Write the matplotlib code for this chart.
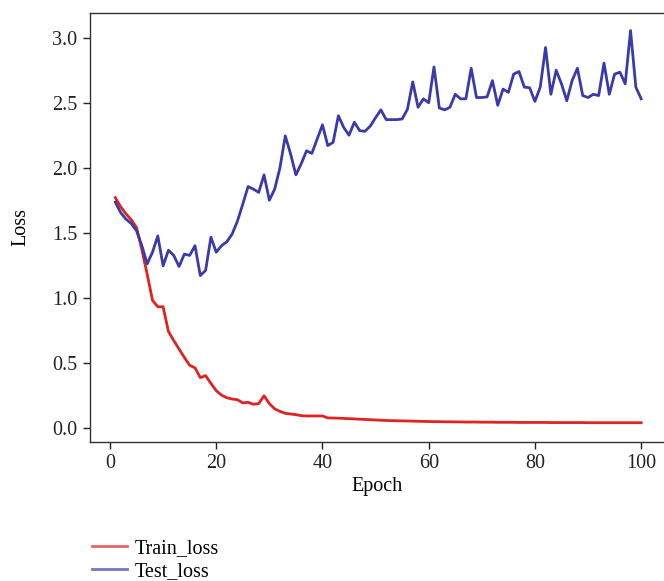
import matplotlib
matplotlib.use("Agg")
import matplotlib.pyplot as plt
import numpy as np

epochs = list(range(1, 101))

train_loss = [1.77, 1.70, 1.645, 1.60, 1.54, 1.37, 1.18, 0.98, 0.93, 0.93,
              0.74, 0.67, 0.605, 0.54, 0.48, 0.46, 0.385, 0.40, 0.34, 0.285,
              0.25, 0.23, 0.22, 0.215, 0.19, 0.195, 0.18, 0.185, 0.245, 0.185,
              0.145, 0.125, 0.11, 0.105, 0.10, 0.092, 0.09, 0.09, 0.09, 0.09,
              0.075, 0.074, 0.073, 0.071, 0.069, 0.067, 0.065, 0.063, 0.061, 0.059,
              0.057, 0.055, 0.054, 0.053, 0.052, 0.051, 0.050, 0.049, 0.048, 0.047,
              0.046, 0.046, 0.045, 0.045, 0.044, 0.044, 0.043, 0.043, 0.043, 0.042,
              0.042, 0.042, 0.041, 0.041, 0.041, 0.041, 0.040, 0.040, 0.040, 0.040,
              0.040, 0.040, 0.039, 0.039, 0.039, 0.039, 0.039, 0.039, 0.039, 0.038,
              0.038, 0.038, 0.038, 0.038, 0.038, 0.038, 0.038, 0.038, 0.038, 0.038]

test_loss = [1.735, 1.655, 1.605, 1.57, 1.515, 1.40, 1.26, 1.35, 1.475, 1.245,
             1.365, 1.325, 1.24, 1.335, 1.325, 1.40, 1.17, 1.21, 1.465, 1.35,
             1.40, 1.43, 1.49, 1.59, 1.72, 1.855, 1.835, 1.81, 1.945, 1.75,
             1.835, 2.00, 2.245, 2.105, 1.945, 2.03, 2.13, 2.11, 2.22, 2.33,
             2.17, 2.195, 2.40, 2.31, 2.25, 2.35, 2.285, 2.28, 2.32, 2.385,
             2.445, 2.37, 2.37, 2.37, 2.375, 2.45, 2.66, 2.465, 2.53, 2.50,
             2.775, 2.46, 2.445, 2.465, 2.565, 2.53, 2.53, 2.765, 2.54, 2.54,
             2.545, 2.67, 2.48, 2.605, 2.58, 2.72, 2.74, 2.62, 2.615, 2.51,
             2.62, 2.925, 2.565, 2.75, 2.645, 2.515, 2.67, 2.765, 2.555, 2.54,
             2.565, 2.555, 2.805, 2.565, 2.72, 2.735, 2.645, 3.055, 2.62, 2.53]

xticks = [0, 20, 40, 60, 80, 100]
yticks = [0.0, 0.5, 1.0, 1.5, 2.0, 2.5, 3.0]

plt.rcParams['font.family'] = ['Liberation Serif', 'DejaVu Serif']

fig = plt.figure(figsize=(6.64, 5.81), dpi=100)
ax = fig.add_axes([0.1355, 0.2398, 0.8645, 0.7373])

l1, = ax.plot(epochs, train_loss, color='#e02222', lw=2.0, label='Train_loss')
l2, = ax.plot(epochs, test_loss, color='#3a3aaa', lw=2.0, label='Test_loss')

ax.set_xlim(-3.77, 104.3)
ax.set_ylim(-0.108, 3.188)
ax.set_xticks(xticks)
ax.set_yticks(yticks)
ax.set_yticklabels([f"{v:.1f}" for v in yticks])
ax.tick_params(direction='out', length=5, width=1, labelsize=14.5, colors='#222222', pad=4)
for s in ax.spines.values():
    s.set_color('#333333')
    s.set_linewidth(1.0)
ax.spines['right'].set_visible(False)

ax.set_xlabel('Epoch', fontsize=14.5, labelpad=2.5)
ax.set_ylabel('Loss', fontsize=14.5)
ax.yaxis.set_label_coords(-0.104, 0.5)

leg = fig.legend(handles=[l1, l2], loc='upper left',
                 bbox_to_anchor=(0.138, 0.073), bbox_transform=fig.transFigure,
                 frameon=False, fontsize=14.5, handlelength=1.75, handletextpad=0.4,
                 labelspacing=0.2, borderaxespad=0, borderpad=0)
for h in leg.get_lines():
    h.set_alpha(0.7)
    h.set_linewidth(2.0)

fig.savefig('out.png', dpi=100)
